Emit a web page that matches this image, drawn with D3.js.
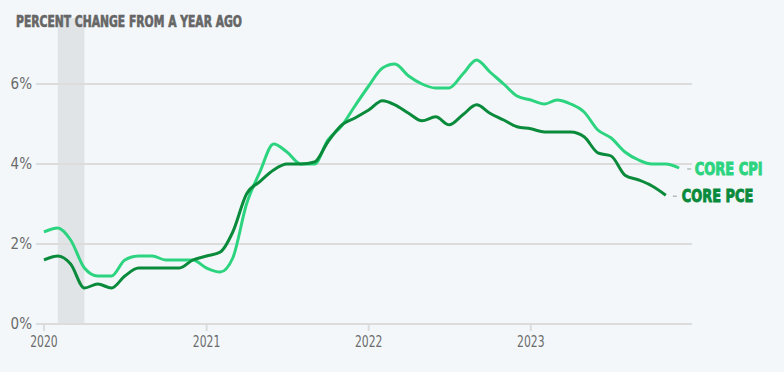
<!DOCTYPE html>
<html><head><meta charset="utf-8">
<script src="https://cdn.jsdelivr.net/npm/d3@7"></script>
<style>
html,body{margin:0;padding:0;background:#f3f7fa;}
svg{display:block;font-family:"Liberation Sans Narrow","DejaVu Sans Condensed",sans-serif;}
</style></head>
<body><svg id="c" width="784" height="372"></svg>
<script>
const title = "PERCENT CHANGE FROM A YEAR AGO";
const seriesNames = ["CORE CPI", "CORE PCE"];
const coreCPI = [2.3,2.4,2.1,1.4,1.2,1.2,1.6,1.7,1.7,1.6,1.6,1.6,
  1.4,1.3,1.65,3.0,3.8,4.5,4.3,4.0,4.0,4.6,4.95,5.45,
  5.95,6.4,6.5,6.2,6.0,5.9,5.9,6.25,6.6,6.3,6.0,5.7,
  5.6,5.5,5.6,5.5,5.3,4.85,4.65,4.3,4.1,4.0,4.0,3.9];
const corePCE = [1.6,1.7,1.5,0.9,1.0,0.9,1.2,1.4,1.4,1.4,1.4,1.6,
  1.7,1.8,2.3,3.25,3.56,3.85,4.0,4.0,4.05,4.55,4.97,5.15,
  5.35,5.58,5.48,5.27,5.08,5.18,4.98,5.23,5.48,5.27,5.1,4.93,
  4.88,4.8,4.8,4.8,4.68,4.28,4.2,3.72,3.6,3.45,3.22];
const yTicks = [0,2,4,6];
const xTickYears = [2020,2021,2022,2023];
const recession = ["2020-02-01","2020-04-01"];

const svg = d3.select("#c");
const months = n => d3.range(n).map(i => new Date(2020, i, 1));
const x = d3.scaleTime().domain([new Date(2020,0,1), new Date(2024,0,1)]).range([44, 692.9]);
const y = d3.scaleLinear().domain([0,6]).range([324, 84]);

// recession band
svg.append("rect")
  .attr("x", x(new Date(recession[0]+"T00:00")))
  .attr("width", x(new Date(recession[1]+"T00:00")) - x(new Date(recession[0]+"T00:00")))
  .attr("y", 18).attr("height", y(0) - 18)
  .attr("fill", "#e1e4e7");

// grid
svg.append("g").selectAll("line").data(yTicks).join("line")
  .attr("x1", 36).attr("x2", 692)
  .attr("y1", d => y(d)).attr("y2", d => y(d))
  .attr("stroke", "#dcdcdc").attr("stroke-width", 2);

// y labels
svg.append("g").selectAll("text").data(yTicks).join("text")
  .attr("x", 32).attr("y", d => y(d) + 5)
  .attr("text-anchor", "end").attr("font-size", 15).attr("fill", "#6b6b6b")
  .text(d => d + "%");

// x ticks
const xt = svg.append("g");
xt.selectAll("line").data(xTickYears).join("line")
  .attr("x1", d => x(new Date(d,0,1))).attr("x2", d => x(new Date(d,0,1)))
  .attr("y1", 324).attr("y2", 331)
  .attr("stroke", "#dcdcdc").attr("stroke-width", 2);
xt.selectAll("text").data(xTickYears).join("text")
  .attr("x", d => x(new Date(d,0,1))).attr("y", 346.5)
  .attr("text-anchor", "middle").attr("font-size", 16.5).attr("fill", "#6b6b6b")
  .attr("textLength", 27.5).attr("lengthAdjust", "spacingAndGlyphs")
  .text(d => d);

// lines
const line = d3.line().x(d => x(d[0])).y(d => y(d[1])).curve(d3.curveMonotoneX);
const cpiData = d3.zip(months(coreCPI.length), coreCPI);
const pceData = d3.zip(months(corePCE.length), corePCE);
svg.append("path").datum(cpiData).attr("d", line)
  .attr("fill", "none").attr("stroke", "#2dd47f").attr("stroke-width", 3).attr("stroke-linejoin","round");
svg.append("path").datum(pceData).attr("d", line)
  .attr("fill", "none").attr("stroke", "#0a8a3b").attr("stroke-width", 3).attr("stroke-linejoin","round");

// labels
const lastC = cpiData[cpiData.length-1], lastP = pceData[pceData.length-1];
svg.append("line").attr("x1", x(lastC[0]) + 8).attr("x2", x(lastC[0]) + 12)
  .attr("y1", y(lastC[1])+1).attr("y2", y(lastC[1])+1).attr("stroke", "#aaa").attr("stroke-width", 1.2);
svg.append("text").attr("x", x(lastC[0]) + 15.5).attr("y", 174.5)
  .attr("font-size", 18).attr("font-weight", "bold").attr("fill", "#2dd47f")
  .attr("stroke", "#2dd47f").attr("stroke-width", 0.9)
  .attr("textLength", 68).attr("lengthAdjust", "spacingAndGlyphs")
  .text(seriesNames[0]);
svg.append("line").attr("x1", x(lastP[0]) + 7).attr("x2", x(lastP[0]) + 11)
  .attr("y1", y(lastP[1])+1).attr("y2", y(lastP[1])+1).attr("stroke", "#aaa").attr("stroke-width", 1.2);
svg.append("text").attr("x", x(lastP[0]) + 16).attr("y", 201.5)
  .attr("font-size", 18).attr("font-weight", "bold").attr("fill", "#0a8a3b")
  .attr("stroke", "#0a8a3b").attr("stroke-width", 0.9)
  .attr("textLength", 71.5).attr("lengthAdjust", "spacingAndGlyphs")
  .text(seriesNames[1]);

// title
svg.append("text").attr("x", 16).attr("y", 27)
  .attr("font-size", 15).attr("font-weight", "bold").attr("fill", "#666")
  .attr("stroke", "#666").attr("stroke-width", 0.6)
  .attr("textLength", 226).attr("lengthAdjust", "spacingAndGlyphs")
  .text(title);
</script></body></html>
